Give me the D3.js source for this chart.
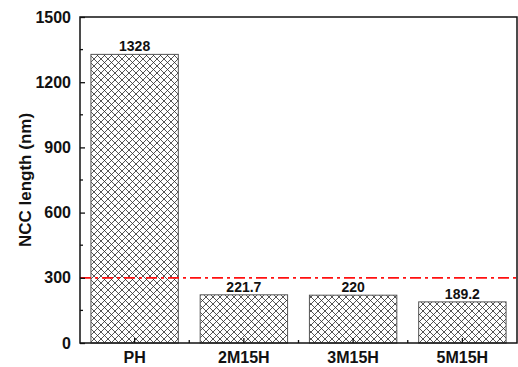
<!DOCTYPE html>
<html>
<head>
<meta charset="utf-8">
<script src="https://cdn.jsdelivr.net/npm/d3@7"></script>
<style>
  body { margin: 0; background: #fff; }
  svg text { font-family: Arial, "Liberation Sans", sans-serif; font-weight: bold; fill: #111; }
</style>
</head>
<body>
<div id="chart"></div>
<script>
const categories = ['PH', '2M15H', '3M15H', '5M15H']
const lengths = [1328, 221.7, 220, 189.2]
const valueLabels = ['1328', '221.7', '220', '189.2']
const yTicks = [0, 300, 600, 900, 1200, 1500]
const threshold = 300

const width = 518
const height = 367
const margin = { top: 17, right: 1, bottom: 24, left: 80 }
const boundWidth = width - margin.left - margin.right
const boundHeight = height - margin.top - margin.bottom

const svg = d3.select('#chart')
  .append('svg')
  .attr('width', width)
  .attr('height', height)

// cross hatch fill
const defs = svg.append('defs')
const pat = defs.append('pattern')
  .attr('id', 'hatch')
  .attr('patternUnits', 'userSpaceOnUse')
  .attr('width', 7)
  .attr('height', 7)
pat.append('rect').attr('width', 7).attr('height', 7).attr('fill', '#fff')
pat.append('path')
  .attr('d', 'M0,0 L7,7 M7,0 L0,7 M-1,6 L1,8 M6,-1 L8,1 M-1,1 L1,-1 M6,8 L8,6')
  .attr('stroke', '#2a2a2a')
  .attr('stroke-width', 0.8)
  .attr('fill', 'none')

const bounds = svg.append('g')
  .attr('transform', `translate(${margin.left}, ${margin.top})`)

const x = d3.scaleBand()
  .domain(categories)
  .range([0, boundWidth])
  .paddingInner(0.2)
  .paddingOuter(0.1)

const y = d3.scaleLinear()
  .domain([0, 1500])
  .range([boundHeight, 0])

// bars
bounds.selectAll('.bar')
  .data(lengths)
  .join('rect')
  .attr('class', 'bar')
  .attr('x', (d, i) => x(categories[i]))
  .attr('y', d => y(d))
  .attr('width', x.bandwidth())
  .attr('height', d => boundHeight - y(d))
  .attr('fill', 'url(#hatch)')
  .attr('stroke', '#555')
  .attr('stroke-width', 1)

bounds.selectAll('.vlabel')
  .data(lengths)
  .join('text')
  .attr('class', 'vlabel')
  .attr('x', (d, i) => x(categories[i]) + x.bandwidth() / 2)
  .attr('y', d => y(d) - 3)
  .attr('text-anchor', 'middle')
  .attr('font-size', 14)
  .text((d, i) => valueLabels[i])

// threshold line
bounds.append('line')
  .attr('x1', 0)
  .attr('x2', boundWidth)
  .attr('y1', y(threshold))
  .attr('y2', y(threshold))
  .attr('stroke', '#ff1010')
  .attr('stroke-width', 1.8)
  .attr('stroke-dasharray', '11,4,3,4')

// frame
bounds.append('rect')
  .attr('width', boundWidth)
  .attr('height', boundHeight)
  .attr('fill', 'none')
  .attr('stroke', '#111')
  .attr('stroke-width', 1.5)

// y axis
const yAxis = bounds.append('g')
  .call(d3.axisLeft(y).tickValues(yTicks).tickFormat(d3.format('d')).tickSize(-5).tickPadding(9))
yAxis.select('.domain').remove()
yAxis.selectAll('.tick line').attr('stroke', '#111').attr('stroke-width', 1.3)
yAxis.selectAll('text').attr('font-size', 16).style('fill', '#111')
yAxis.selectAll('.minor')
  .data(d3.range(150, 1500, 300))
  .join('line')
  .attr('class', 'minor')
  .attr('x1', 0)
  .attr('x2', 3)
  .attr('y1', d => y(d))
  .attr('y2', d => y(d))
  .attr('stroke', '#111')
  .attr('stroke-width', 1.3)

// x axis
const xAxis = bounds.append('g')
  .attr('transform', `translate(0, ${boundHeight})`)
  .call(d3.axisBottom(x).tickSize(-5).tickPadding(9))
xAxis.select('.domain').remove()
xAxis.selectAll('.tick line').attr('stroke', '#111').attr('stroke-width', 1.3)
xAxis.selectAll('text').attr('font-size', 16).style('fill', '#111')
xAxis.selectAll('.minor')
  .data(categories.slice(1))
  .join('line')
  .attr('class', 'minor')
  .attr('x1', d => x(d) - x.step() * x.paddingInner() / 2)
  .attr('x2', d => x(d) - x.step() * x.paddingInner() / 2)
  .attr('y1', 0)
  .attr('y2', -3)
  .attr('stroke', '#111')
  .attr('stroke-width', 1.3)

// y title
svg.append('text')
  .attr('transform', `translate(31, ${margin.top + boundHeight / 2}) rotate(-90)`)
  .attr('text-anchor', 'middle')
  .attr('font-size', 17)
  .text('NCC length (nm)')
</script>
</body>
</html>
